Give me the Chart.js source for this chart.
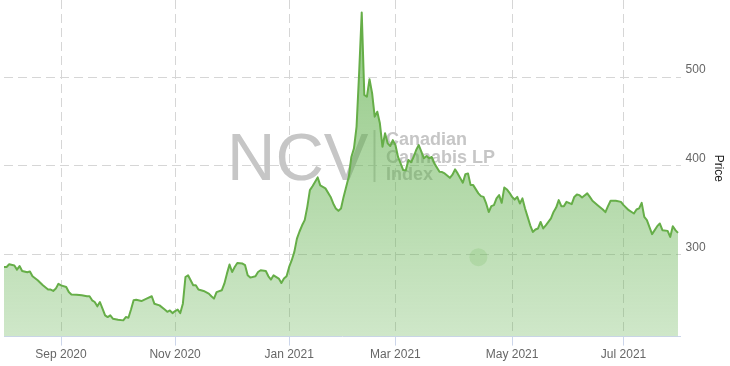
<!DOCTYPE html>
<html>
<head>
<meta charset="utf-8">
<script src="https://cdn.jsdelivr.net/npm/chart.js@4"></script>
<style>
  html, body { margin: 0; padding: 0; background: #fff; }
  canvas { display: block; }
</style>
</head>
<body>
<canvas id="grafico" width="730" height="366"></canvas>
<script>
// trading day index, 0 = 31 Jul 2020 (weekdays only)
const tradingDay = [
  0, 1, 2, 4, 5, 6, 7, 9, 10, 11, 13, 15, 17, 18, 19, 20, 21, 22, 24, 25, 26, 28, 30, 32, 33, 34, 35, 36, 37, 38,
  39, 40, 41, 42, 44, 46, 47, 48, 49, 50, 51, 53, 55, 57, 58, 60, 62, 63, 64, 65, 66, 67, 68, 69, 70, 71, 73, 74, 75, 77,
  79, 80, 81, 82, 84, 85, 86, 87, 88, 89, 90, 92, 93, 94, 95, 97, 98, 99, 101, 102, 103, 104, 106, 107, 108, 109, 110, 111, 112, 113,
  114, 115, 116, 117, 118, 119, 121, 122, 124, 126, 127, 128, 129, 130, 131, 133, 134, 135, 136, 137, 138, 139, 140, 141, 142, 143, 144, 145, 146, 147,
  148, 149, 150, 151, 152, 153, 154, 155, 156, 157, 158, 159, 160, 161, 162, 163, 164, 165, 166, 168, 169, 170, 172, 173, 174, 175, 177, 178, 179, 180,
  181, 183, 184, 185, 186, 187, 188, 189, 190, 191, 192, 193, 194, 195, 196, 197, 198, 199, 200, 201, 202, 203, 204, 205, 206, 207, 208, 209, 211, 212,
  213, 214, 215, 216, 217, 219, 220, 221, 222, 223, 225, 226, 227, 229, 231, 232, 233, 234, 236, 238, 239, 241, 243, 244, 245, 246, 247, 248, 250, 252,
  253, 254, 256, 257, 258, 259, 260
]
const price = [
  286, 286, 289, 287.6, 283, 287, 281.5, 280, 281, 275.5, 271, 265.3, 260.5, 260.5, 259, 261.6, 267, 265.3, 263.4, 257.7, 255, 254.8, 254, 253, 253, 248.4, 246.5, 241.6, 246.5, 239,
  231.4, 229.5, 231.4, 227.7, 226.6, 225.8, 229.5, 228.8, 238, 248.4, 249, 247.6, 250.3, 253, 244.6, 242.7, 238, 235.5, 237, 234, 236.3, 237.9, 234, 244.6, 274.7, 276.6, 265.3, 265.3, 260.5, 259,
  256, 253, 250.3, 257.7, 259.7, 267.2, 278.5, 288.7, 280.3, 286, 290.5, 289.8, 288, 276.6, 274, 275.5, 280.3, 282.3, 281.5, 275.5, 271.8, 276.6, 272.9, 267.9, 272.9, 275.5, 286, 293.6, 303, 318,
  326, 333, 338.8, 353.8, 372.7, 377, 387, 378, 374.6, 365, 357.6, 352, 349.3, 352, 365, 387.7, 410, 419.8, 444, 505, 573, 480, 478, 497.7, 482, 455.5, 461, 448, 421.6, 436.7,
  425.4, 422.4, 429, 423.5, 410, 402.8, 395.2, 395, 406.6, 404, 410, 417.9, 423.5, 416, 408.5, 411, 408.5, 410, 402.8, 393.3, 393, 391.5, 386.5, 390, 396, 391.5, 381, 390.7, 391.5, 378.3,
  378.3, 369, 365.9, 365, 357.6, 348, 354.6, 355.7, 363.3, 367, 358.3, 375.7, 373.4, 369.6, 365, 362, 365, 357.6, 363.3, 352, 342.5, 333, 325.5, 328.2, 329.4, 336.8, 329.4, 333, 340.7, 348,
  353, 361.4, 354.6, 354.6, 359.4, 356.8, 365, 367.8, 367, 364.4, 369, 365, 360.6, 355.7, 350.8, 347.8, 354.6, 360.6, 360.6, 359.4, 355.7, 350, 346.3, 350.8, 352, 358.3, 342.5, 338.8, 323, 332,
  335, 327.5, 326.7, 319.9, 332, 327.5, 324.4
]

// month ticks (first trading day of the month)
const monthTicks = [22, 66, 110, 151, 196, 239]
const monthLabels = ['Sep 2020', 'Nov 2020', 'Jan 2021', 'Mar 2021', 'May 2021', 'Jul 2021']
const priceTicks = [300, 400, 500]

// faint dot of the watermark
const dotDay = 183
const dotPrice = 297

const ctx = document.getElementById('grafico')

const watermark = {
  id: 'watermark',
  beforeDatasetsDraw(chart) {
    const c = chart.ctx
    c.save()
    c.fillStyle = '#c6c6c6'
    c.font = '67px "Liberation Sans", Arial, sans-serif'
    c.textBaseline = 'alphabetic'
    c.fillText('NCV', 227, 180)
    c.fillStyle = '#cfcfcf'
    c.fillRect(373.5, 130, 2, 52)
    c.fillStyle = '#c6c6c6'
    c.font = 'bold 18px "Liberation Sans", Arial, sans-serif'
    c.fillText('Canadian', 386, 145)
    c.fillText('Cannabis LP', 386, 163)
    c.fillText('Index', 386, 180)
    c.restore()
  },
  afterDatasetsDraw(chart) {
    const c = chart.ctx
    const x = chart.scales.x.getPixelForValue(dotDay)
    const y = chart.scales.y.getPixelForValue(dotPrice)
    c.save()
    c.fillStyle = 'rgba(100, 175, 80, 0.18)'
    c.beginPath()
    c.arc(x, y, 9, 0, Math.PI * 2)
    c.fill()
    c.restore()
  }
}

const data = {
  datasets: [{
    label: 'Price',
    data: tradingDay.map((d, i) => ({ x: d, y: price[i] })),
    borderColor: '#66ae48',
    borderWidth: 2,
    borderJoinStyle: 'round',
    pointRadius: 0,
    tension: 0,
    fill: 'start',
    backgroundColor: (context) => {
      const area = context.chart.chartArea
      if (!area) return 'rgba(100,180,80,0.5)'
      const g = context.chart.ctx.createLinearGradient(0, area.top, 0, area.bottom)
      g.addColorStop(0, 'rgba(96, 176, 76, 0.7)')
      g.addColorStop(1, 'rgba(96, 176, 76, 0.3)')
      return g
    }
  }]
}

const config = {
  type: 'line',
  data,
  plugins: [watermark],
  options: {
    responsive: false,
    animation: false,
    devicePixelRatio: 1,
    layout: { padding: { left: 4, right: 0, top: 0, bottom: 2 } },
    plugins: { legend: { display: false }, tooltip: { enabled: false } },
    scales: {
      x: {
        type: 'linear',
        min: 0,
        max: 261,
        afterBuildTicks: (axis) => { axis.ticks = monthTicks.map(v => ({ value: v })) },
        ticks: {
          autoSkip: false,
          maxRotation: 0,
          padding: 2,
          color: '#666',
          font: { family: '"Liberation Sans", Arial, sans-serif', size: 12 },
          callback: (value) => monthLabels[monthTicks.indexOf(value)]
        },
        grid: {
          color: '#d6d6d6',
          tickColor: '#ccd6eb',
          tickLength: 9,
          tickBorderDash: []
        },
        border: { color: '#ccd6eb', width: 1, dash: [9, 5] }
      },
      y: {
        position: 'right',
        min: 207.5,
        max: 587,
        afterBuildTicks: (axis) => { axis.ticks = priceTicks.map(v => ({ value: v })) },
        afterFit: (axis) => { axis.paddingTop = 0; axis.paddingBottom = 0 },
        ticks: {
          padding: 5,
          labelOffset: -7,
          color: '#666',
          font: { family: '"Liberation Sans", Arial, sans-serif', size: 12 }
        },
        grid: { color: '#d6d6d6', drawTicks: false },
        border: { display: false, dash: [9, 5] },
        title: {
          display: true,
          text: 'Price',
          color: '#222',
          padding: { top: 4, bottom: 1 },
          font: { family: '"Liberation Sans", Arial, sans-serif', size: 12 }
        }
      }
    }
  }
}

const graph = new Chart(ctx, config)
</script>
</body>
</html>
